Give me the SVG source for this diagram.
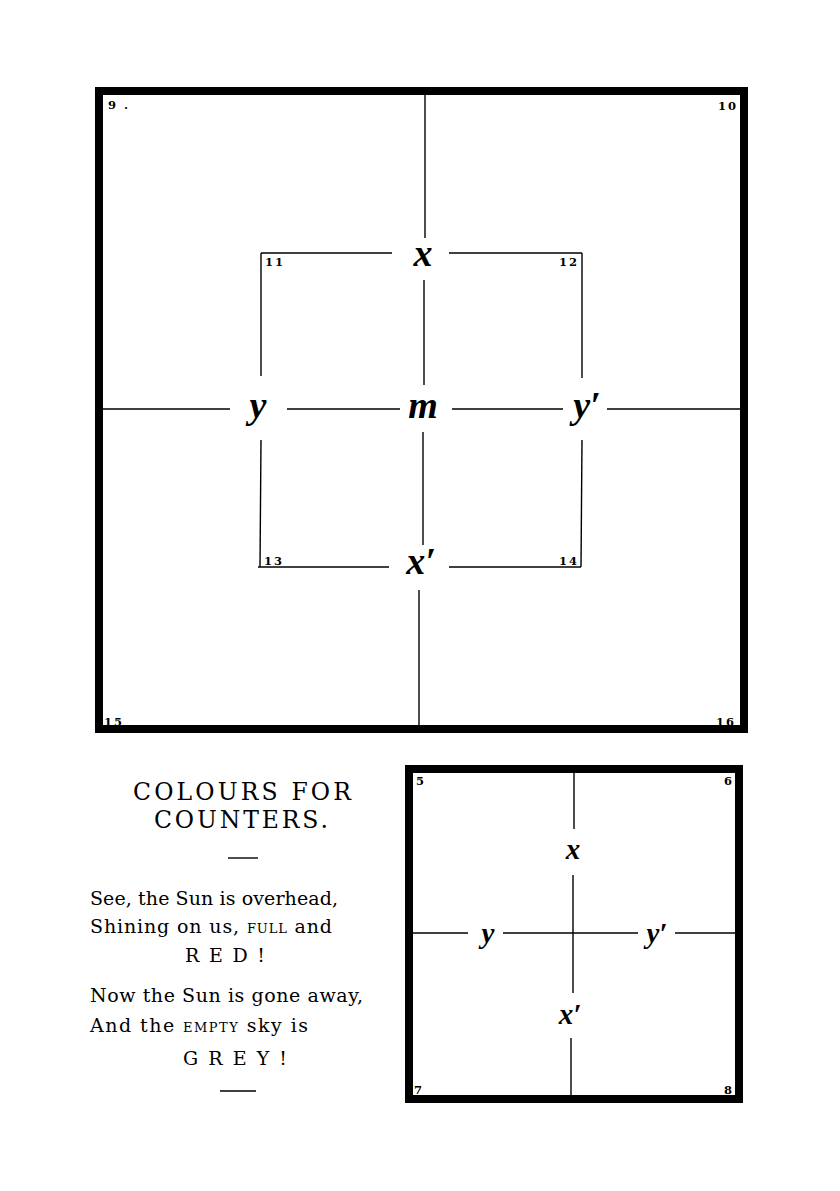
<svg xmlns="http://www.w3.org/2000/svg" width="840" height="1191" viewBox="0 0 840 1191">
<style>
.frame{fill:none;stroke:#000;stroke-width:8}
.ln{stroke:#000;stroke-width:1.4;fill:none}
.num{font-family:"DejaVu Serif","Liberation Serif",serif;font-weight:bold;font-size:11.5px;letter-spacing:2px;fill:#000}
.var{font-family:"Liberation Serif",serif;font-style:italic;font-weight:bold;fill:#000;text-anchor:middle}
.big{font-size:38px}
.sm{font-size:29px}
.title{font-family:"DejaVu Serif","Liberation Serif",serif;font-size:23.5px;fill:#000}
.poem{font-family:"DejaVu Serif","Liberation Serif",serif;font-size:19px;fill:#000}
.sc{font-size:13px}
</style>
<rect width="840" height="1191" fill="#fff"/>

<g id="big-square">
  <rect class="frame" x="99" y="91" width="645" height="638"/>
  <text class="num" x="108" y="109">9 .</text>
  <text class="num" x="738" y="110" text-anchor="end">10</text>
  <text class="num" x="104" y="726">15</text>
  <text class="num" x="736" y="726" text-anchor="end">16</text>
</g>

<g id="inner-square">
  <text class="num" x="265" y="266">11</text>
  <text class="num" x="579" y="266" text-anchor="end">12</text>
  <text class="num" x="264" y="565">13</text>
  <text class="num" x="579" y="565" text-anchor="end">14</text>
</g>

<g id="big-labels">
  <text class="var big" x="423" y="266">x</text>
  <text class="var big" x="258" y="418">y</text>
  <text class="var big" x="423" y="418">m</text>
  <text class="var big" x="587" y="418">y′</text>
  <text class="var big" x="421" y="574">x′</text>
</g>

<g id="small-square">
  <rect class="frame" x="409" y="769" width="330" height="330"/>
  <text class="num" x="416" y="785" font-size="10">5</text>
  <text class="num" x="734" y="785" text-anchor="end" font-size="10">6</text>
  <text class="num" x="414" y="1094" font-size="10">7</text>
  <text class="num" x="734" y="1094" text-anchor="end" font-size="10">8</text>
  <text class="var sm" x="573" y="859">x</text>
  <text class="var sm" x="488" y="943">y</text>
  <text class="var sm" x="657" y="943">y′</text>
  <text class="var sm" x="570" y="1024">x′</text>
</g>

<g id="connectors">
  <line class="ln" x1="425" y1="95" x2="425" y2="238"/>
  <line class="ln" x1="424" y1="280" x2="424" y2="385"/>
  <line class="ln" x1="423" y1="432" x2="423" y2="545"/>
  <line class="ln" x1="419" y1="590" x2="419" y2="727"/>
  <line class="ln" x1="103" y1="409" x2="230" y2="409"/>
  <line class="ln" x1="287" y1="409" x2="400" y2="409"/>
  <line class="ln" x1="452" y1="409" x2="563" y2="409"/>
  <line class="ln" x1="607" y1="409" x2="740" y2="409"/>
  <line class="ln" x1="261" y1="253" x2="392" y2="253"/>
  <line class="ln" x1="449" y1="253" x2="582" y2="253"/>
  <line class="ln" x1="261" y1="253" x2="261" y2="376"/>
  <line class="ln" x1="261" y1="440" x2="260" y2="567"/>
  <line class="ln" x1="582" y1="253" x2="582" y2="378"/>
  <line class="ln" x1="582" y1="440" x2="581" y2="567"/>
  <line class="ln" x1="258" y1="567" x2="389" y2="567"/>
  <line class="ln" x1="449" y1="567" x2="581" y2="567"/>
  <line class="ln" x1="574" y1="773" x2="574" y2="829"/>
  <line class="ln" x1="573" y1="875" x2="573" y2="993"/>
  <line class="ln" x1="571" y1="1038" x2="571" y2="1095"/>
  <line class="ln" x1="412" y1="933" x2="468" y2="933"/>
  <line class="ln" x1="503" y1="933" x2="638" y2="933"/>
  <line class="ln" x1="675" y1="933" x2="735" y2="933"/>
</g>

<g id="text-block">
  <text class="title" x="133" y="800" textLength="218" lengthAdjust="spacing">COLOURS  FOR</text>
  <text class="title" x="154" y="828" textLength="174" lengthAdjust="spacing">COUNTERS.</text>
  <line class="ln" x1="228" y1="858" x2="258" y2="858" stroke-width="1.6"/>
  <text class="poem" x="90" y="905" textLength="248" lengthAdjust="spacing">See, the Sun is overhead,</text>
  <text class="poem" x="90" y="933" textLength="242" lengthAdjust="spacing">Shining on us, <tspan class="sc">FULL</tspan> and</text>
  <text class="poem" x="185" y="962" textLength="80" lengthAdjust="spacing">R E D !</text>
  <text class="poem" x="90" y="1002" textLength="273" lengthAdjust="spacing">Now the Sun is gone away,</text>
  <text class="poem" x="90" y="1032" textLength="218" lengthAdjust="spacing">And the <tspan class="sc">EMPTY</tspan> sky is</text>
  <text class="poem" x="183" y="1065" textLength="104" lengthAdjust="spacing">G R E Y !</text>
  <line class="ln" x1="220" y1="1091" x2="256" y2="1091" stroke-width="1.6"/>
</g>
</svg>
